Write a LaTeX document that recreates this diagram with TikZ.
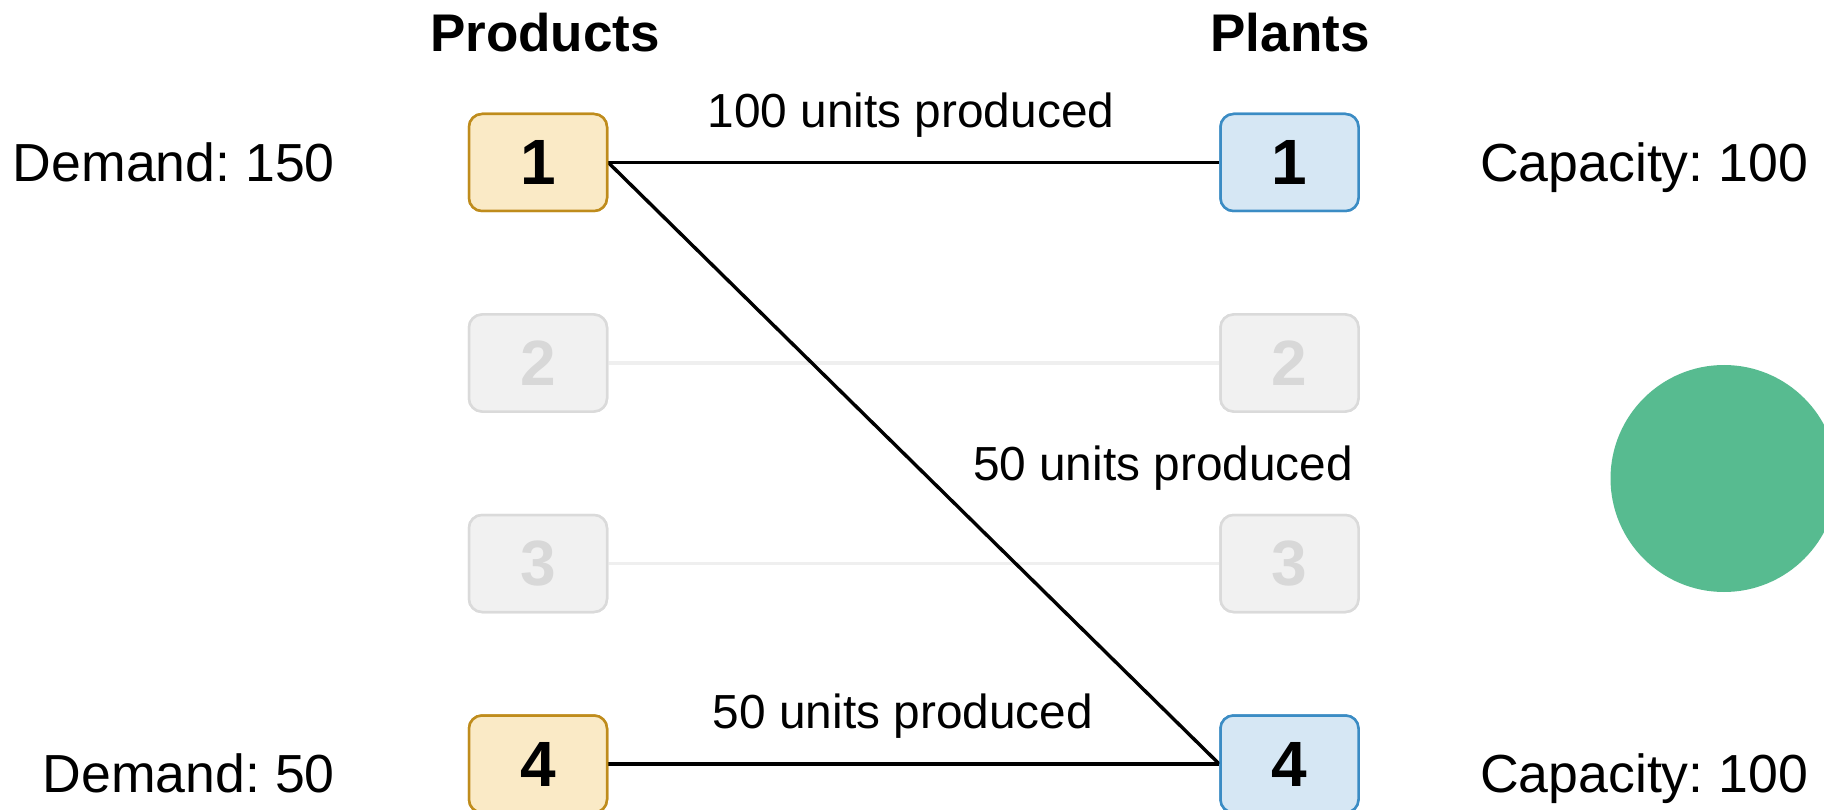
\documentclass[tikz,border=0pt]{standalone}
\usepackage{fontspec}
\setmainfont{Liberation Sans}
\frenchspacing
\definecolor{prodfill}{HTML}{FAEAC6}
\definecolor{prodline}{HTML}{BF8C1C}
\definecolor{plantfill}{HTML}{D6E7F4}
\definecolor{plantline}{HTML}{3B8CC4}
\definecolor{offfill}{HTML}{F1F1F1}
\definecolor{offline}{HTML}{DADADA}
\definecolor{offtext}{HTML}{D8D8D8}
\definecolor{offedge}{HTML}{EFEFEF}
\definecolor{dotgreen}{HTML}{57BB90}
\begin{document}
\begin{tikzpicture}[x=1pt,y=-1pt,
  box/.style={rounded corners=13pt, line width=2.5pt, minimum width=138pt,
    minimum height=97pt, inner sep=0pt,
    font=\fontsize{64}{70}\selectfont\bfseries},
  prodbox/.style={box, draw=prodline, fill=prodfill},
  plantbox/.style={box, draw=plantline, fill=plantfill},
  offbox/.style={box, draw=offline, fill=offfill, text=offtext},
  flow/.style={line width=3.4pt, black},
  offflow/.style={line width=3.4pt, offedge},
  heading/.style={font=\fontsize{53}{60}\selectfont\bfseries, anchor=base, inner sep=0pt},
  side/.style={font=\fontsize{53.6}{60}\selectfont, inner sep=0pt},
  flowlabel/.style={font=\fontsize{47.8}{54}\selectfont, anchor=base, inner sep=0pt}]
\useasboundingbox (0,0) rectangle (1824,810);

% product and plant boxes
\node[prodbox]  (p1) at (538,162.5) {1};
\node[offbox]   (p2) at (538,363) {2};
\node[offbox]   (p3) at (538,563.5) {3};
\node[prodbox]  (p4) at (538,764) {4};
\node[plantbox] (q1) at (1289.5,162.5) {1};
\node[offbox]   (q2) at (1289.5,363) {2};
\node[offbox]   (q3) at (1289.5,563.5) {3};
\node[plantbox] (q4) at (1289.5,764) {4};

% connections between products and plants
\draw[offflow] (p2.east) -- (q2.west);
\draw[offflow] (p3.east) -- (q3.west);
\draw[flow] (p1.east) -- (q1.west);
\draw[flow] (p1.east) -- (q4.west);
\draw[flow] (p4.east) -- (q4.west);

% redraw boxes above the lines
\node[prodbox]  at (p1) {1};
\node[offbox]   at (p2) {2};
\node[offbox]   at (p3) {3};
\node[prodbox]  at (p4) {4};
\node[plantbox] at (q1) {1};
\node[offbox]   at (q2) {2};
\node[offbox]   at (q3) {3};
\node[plantbox] at (q4) {4};

% flow labels
\node[flowlabel] (l1) at (911,128) {100 units produced};
\node[flowlabel] (l2) at (1163,480) {50 units produced};
\node[flowlabel] (l3) at (903,728) {50 units produced};

% column headings
\node[heading] (hprod)  at (545,52) {Products};
\node[heading] (hplant) at (1290,52) {Plants};

% demand and capacity
\node[side, anchor=base east] (d1) at (335,181.7) {Demand: 150};
\node[side, anchor=base east] (d4) at (335,792) {Demand: 50};
\node[side, anchor=base west] (c1) at (1480,181.7) {Capacity: 100};
\node[side, anchor=base west] (c4) at (1480,792) {Capacity: 100};

% green marker
\fill[dotgreen] (1724,478.5) circle[radius=113.5];
\end{tikzpicture}
\end{document}
